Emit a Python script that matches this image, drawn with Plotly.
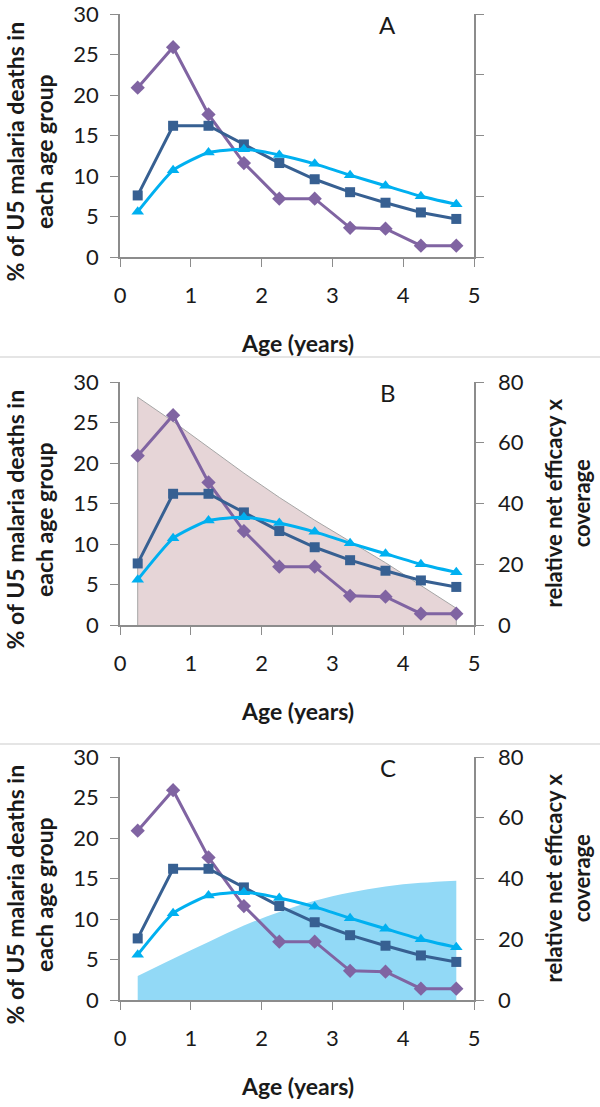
import plotly.graph_objects as go

# ---------------- data ----------------
AGES = [0.25, 0.75, 1.25, 1.75, 2.25, 2.75, 3.25, 3.75, 4.25, 4.75]
DEATHS_PURPLE = [20.9, 25.9, 17.6, 11.6, 7.2, 7.2, 3.6, 3.5, 1.4, 1.4]
DEATHS_DARK = [7.6, 16.2, 16.2, 13.9, 11.6, 9.6, 8.0, 6.7, 5.5, 4.7]
DEATHS_CYAN = [5.6, 10.7, 12.9, 13.3, 12.6, 11.5, 10.1, 8.8, 7.5, 6.5]
EFFICACY_B = [75, 67, 58.5, 50, 42, 34.5, 27.5, 20.5, 13, 5.5]
EFFICACY_C = [7.9, 13.6, 19.1, 24.5, 29.0, 32.7, 35.4, 37.4, 38.6, 39.3]
PANEL_LABELS = ["A", "B", "C"]
X_TICKS = [0, 1, 2, 3, 4, 5]
Y_TICKS = [0, 5, 10, 15, 20, 25, 30]
Y2_TICKS = [0, 20, 40, 60, 80]

W, H = 600, 1107
PLOT_LEFT, PLOT_RIGHT = 120, 474
PANELS = [  # (top, bottom) in pixels
    (14, 257),
    (382, 625),
    (757, 1000),
]
DIVIDERS = [357, 744]

FONT = "Lato"
TXT = "#1a1a1a"
AXC = "#8c8c8c"
C_PURPLE = "#8064A2"
C_DARK = "#376092"
C_CYAN = "#00B0F0"

# invisible padding glyphs push the tick labels away from the axis lines
PAD_L = "<span style='font-size:12px;color:rgba(0,0,0,0)'>0</span>"
PAD_R = "<span style='font-size:17px;color:rgba(0,0,0,0)'>0</span>"
Y_TEXT = [f"{v}{PAD_L}" for v in Y_TICKS]
Y2_TEXT = [f"{PAD_R}{v}" for v in Y2_TICKS]


def px_x(v):
    return v / W


def px_y(v):
    return 1 - v / H


fig = go.Figure()
layout = dict(
    width=W, height=H, margin=dict(l=0, r=0, t=0, b=0, autoexpand=False),
    paper_bgcolor="white", plot_bgcolor="rgba(0,0,0,0)",
    showlegend=False, font=dict(family=FONT, color=TXT),
)
annotations = []
shapes = []

for i, (top, bot) in enumerate(PANELS):
    xn = "x" if i == 0 else f"x{i+1}"
    base_n = 2 * i + 1
    over_n = 2 * i + 2
    base_ref = "y" if base_n == 1 else f"y{base_n}"
    over_ref = f"y{over_n}"
    xkey = "xaxis" if i == 0 else f"xaxis{i+1}"
    basekey = "yaxis" if base_n == 1 else f"yaxis{base_n}"
    overkey = f"yaxis{over_n}"
    ydom = [px_y(bot), px_y(top)]

    layout[xkey] = dict(
        domain=[px_x(PLOT_LEFT), px_x(PLOT_RIGHT)], anchor=base_ref,
        range=[0, 5], tickvals=X_TICKS, ticks="outside", ticklen=8,
        tickcolor=AXC, showline=True, linecolor=AXC, linewidth=1.5,
        showgrid=False, zeroline=False, tickfont=dict(size=22, color=TXT),
        ticklabelstandoff=10, automargin=False, ticklabeloverflow="allow",
    )
    layout[basekey] = dict(
        domain=ydom, anchor=xn, side="right", range=[0, 80],
        tickvals=Y2_TICKS, ticktext=Y2_TEXT, ticks="outside", ticklen=8,
        tickcolor=AXC, showline=True, linecolor=AXC, linewidth=1.5,
        showgrid=False, zeroline=False, showticklabels=(i > 0),
        tickfont=dict(size=22, color=TXT),
        automargin=False, ticklabeloverflow="allow",
    )
    layout[overkey] = dict(
        overlaying=base_ref, anchor=xn, side="left", range=[0, 30],
        tickvals=Y_TICKS, ticktext=Y_TEXT, ticks="outside", ticklen=8,
        tickcolor=AXC, showline=True, linecolor=AXC, linewidth=1.5,
        showgrid=False, zeroline=False, tickfont=dict(size=22, color=TXT),
        automargin=False, ticklabeloverflow="allow",
    )

    # area (behind) on the right-hand axis
    if i == 0:
        # no area in panel A: empty trace just registers the right axis
        fig.add_trace(go.Scatter(x=[], y=[], mode="lines", xaxis=xn,
                                 yaxis=base_ref, hoverinfo="skip"))
    elif i == 1:
        fig.add_trace(go.Scatter(
            x=[AGES[0]] + AGES + [AGES[-1]], y=[0] + EFFICACY_B + [0],
            mode="lines", fill="toself", fillcolor="rgb(230,213,215)",
            line=dict(color="#a6a6a6", width=1), xaxis=xn, yaxis=base_ref,
            hoverinfo="skip"))
    else:
        fig.add_trace(go.Scatter(
            x=AGES, y=EFFICACY_C, mode="lines", fill="tozeroy",
            fillcolor="rgb(146,217,246)", line=dict(width=0, shape="spline"),
            xaxis=xn, yaxis=base_ref, hoverinfo="skip"))

    fig.add_trace(go.Scatter(
        x=AGES, y=DEATHS_PURPLE, mode="lines+markers",
        line=dict(color=C_PURPLE, width=3),
        marker=dict(symbol="diamond", size=11, color=C_PURPLE),
        xaxis=xn, yaxis=over_ref))
    fig.add_trace(go.Scatter(
        x=AGES, y=DEATHS_DARK, mode="lines+markers",
        line=dict(color=C_DARK, width=3),
        marker=dict(symbol="square", size=10, color=C_DARK),
        xaxis=xn, yaxis=over_ref))
    fig.add_trace(go.Scatter(
        x=AGES, y=DEATHS_CYAN, mode="lines+markers",
        line=dict(color=C_CYAN, width=3, shape="spline", smoothing=0.5),
        marker=dict(symbol="triangle-up", size=11, color=C_CYAN),
        xaxis=xn, yaxis=over_ref))

    # panel label
    annotations.append(dict(
        text=PANEL_LABELS[i], x=px_x(388), y=px_y(top + 10),
        xref="paper", yref="paper", showarrow=False,
        font=dict(size=24, color=TXT), xanchor="center", yanchor="middle"))
    # x title
    annotations.append(dict(
        text="<b>Age (years)</b>", x=px_x((PLOT_LEFT + PLOT_RIGHT) / 2),
        y=px_y(bot + 86), xref="paper", yref="paper", showarrow=False,
        font=dict(size=23, color=TXT), xanchor="center", yanchor="middle"))
    # left y title
    annotations.append(dict(
        text="<b>% of U5 malaria deaths in<br>each age group</b>",
        x=px_x(29), y=px_y((top + bot) / 2 + 16), xref="paper", yref="paper",
        showarrow=False, textangle=-90, font=dict(size=23, color=TXT),
        xanchor="center", yanchor="middle"))
    if i > 0:
        annotations.append(dict(
            text="<b>relative net efficacy x<br>coverage</b>",
            x=px_x(567), y=px_y((top + bot) / 2), xref="paper", yref="paper",
            showarrow=False, textangle=-90, font=dict(size=22, color=TXT),
            xanchor="center", yanchor="middle"))

for d in DIVIDERS:
    shapes.append(dict(type="line", xref="paper", yref="paper", x0=0, x1=1,
                       y0=px_y(d), y1=px_y(d),
                       line=dict(color="#dcdcdc", width=1.5)))

layout["annotations"] = annotations
layout["shapes"] = shapes
fig.update_layout(**layout)
fig.write_html("out.html", config={"displayModeBar": False},
               post_script="document.body.style.margin='0';"
                           "document.body.style.padding='0';")
